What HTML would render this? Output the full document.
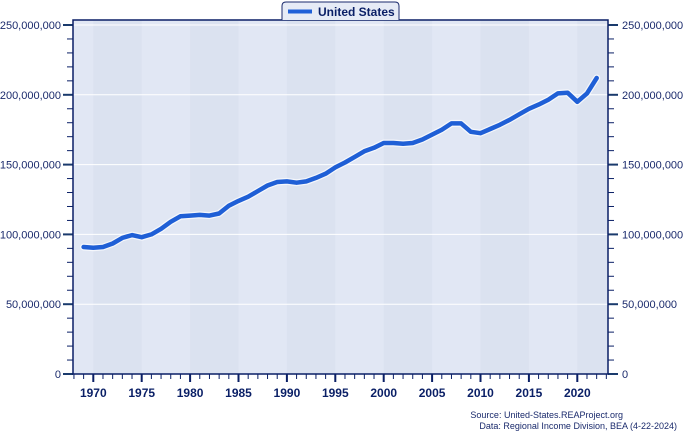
<!DOCTYPE html>
<html><head><meta charset="utf-8"><style>
body{margin:0;background:#fff;width:683px;height:433px;overflow:hidden;font-family:"Liberation Sans",sans-serif}
</style></head><body>
<svg id="chart" width="683" height="433" xmlns="http://www.w3.org/2000/svg">
<g id="bands"></g><g id="grid"></g><g id="axes"></g><g id="series"></g>
<g>
<path d="M282,20 L282,6 Q282,2 286,2 L395,2 Q399,2 399,6 L399,20" fill="#e6ebf6" stroke="#1a2a6c" stroke-width="1"/>
<rect x="288" y="9.5" width="24" height="4" fill="#2060d8"/>
<text x="318" y="16" font-size="12" font-weight="bold" fill="#0a1f66">United States</text>
</g>
<text x="623" y="418" font-size="9" fill="#1a2a6c" text-anchor="end">Source: United-States.REAProject.org</text>
<text x="677" y="429" font-size="9" fill="#1a2a6c" text-anchor="end">Data: Regional Income Division, BEA (4-22-2024)</text>
</svg>
<script>
const years=[1969,1970,1971,1972,1973,1974,1975,1976,1977,1978,1979,1980,1981,1982,1983,1984,1985,1986,1987,1988,1989,1990,1991,1992,1993,1994,1995,1996,1997,1998,1999,2000,2001,2002,2003,2004,2005,2006,2007,2008,2009,2010,2011,2012,2013,2014,2015,2016,2017,2018,2019,2020,2021,2022];
const values=[91,90.5,91,93.5,97.5,99.5,98,100,104,109,113,113.5,114,113.5,115,120.5,124,127,131,135,137.5,138,137,138,140.5,143.5,148,151.5,155.5,159.5,162,165.5,165.5,165,165.5,168,171.5,175,179.5,179.5,173.5,172.5,175.5,178.5,182,186,190,193,196.5,201,201.5,195,201,212];
const yTicks=[0,50,100,150,200,250];
const xTicks=[1970,1975,1980,1985,1990,1995,2000,2005,2010,2015,2020];
const L=73,R=608,T=20,B=374;
const x=y=>93.3+(y-1970)*9.68;
const yv=v=>B-v/250*349;
const NS='http://www.w3.org/2000/svg';
function mk(tag,attrs,parent){const e=document.createElementNS(NS,tag);for(const k in attrs)e.setAttribute(k,attrs[k]);document.getElementById(parent).appendChild(e);return e;}
let bg=mk('rect',{x:L,y:T,width:R-L,height:B-T,fill:'#e1e7f4'},'bands');


for(let s=1970;s<2025;s+=10){
 const x0=Math.max(L,x(s)),x1=Math.min(R,x(s+5));
 const b=mk('rect',{x:x0,y:T,width:x1-x0,height:B-T,fill:'#dbe2f0'},'bands');
 
 
}
yTicks.forEach(v=>{
 const yy=yv(v);
 if(v>0){const g=mk('line',{x1:L,x2:R,y1:yy,y2:yy,stroke:'#fff','stroke-width':1},'grid');
 
 }
 const lab=v===0?'0':(v*1e6).toLocaleString('en-US');
 const t1=mk('text',{x:61,y:yy+4,'font-size':11,fill:'#1a2a6c','text-anchor':'end'},'axes');t1.textContent=lab;
 
 
 const t2=mk('text',{x:622,y:yy+4,'font-size':11,fill:'#1a2a6c'},'axes');t2.textContent=lab;
 
 
 mk('line',{x1:63,x2:73,y1:yy,y2:yy,stroke:'#1a3a6c','stroke-width':2},'axes');
 mk('line',{x1:608,x2:618,y1:yy,y2:yy,stroke:'#1a3a6c','stroke-width':2},'axes');
});
for(let v=10;v<250;v+=10){if(v%50===0)continue;const yy=yv(v);
 mk('line',{x1:67,x2:73,y1:yy,y2:yy,stroke:'#0a1f66','stroke-width':1},'axes');
 mk('line',{x1:608,x2:614,y1:yy,y2:yy,stroke:'#0a1f66','stroke-width':1},'axes');}
for(let yr=1968;yr<=2023;yr++){const xx=x(yr);if(xx<L||xx>R)continue;const maj=yr%5===0;
 mk('line',{x1:xx,x2:xx,y1:B,y2:B+(maj?8:5),stroke:'#0a1f66','stroke-width':maj?2:1},'axes');}
xTicks.forEach(yr=>{const t=mk('text',{x:x(yr),y:397,'font-size':12,'font-weight':'bold',fill:'#0a1f66','text-anchor':'middle'},'axes');t.textContent=yr;
 
 });
const fr=mk('rect',{x:L,y:T,width:R-L,height:B-T,fill:'none',stroke:'#0a1f66','stroke-width':1.5},'axes');


const d=years.map((yr,i)=>(i?'L':'M')+x(yr).toFixed(1)+','+yv(values[i]).toFixed(1)).join(' ');
mk('path',{d:d,fill:'none',stroke:'#fff','stroke-width':7,'stroke-linejoin':'round','stroke-linecap':'round',opacity:0.7},'series');
const ln=mk('path',{d:d,fill:'none',stroke:'#1f5fd6','stroke-width':4.5,'stroke-linejoin':'round','stroke-linecap':'round'},'series');


</script>
</body></html>
